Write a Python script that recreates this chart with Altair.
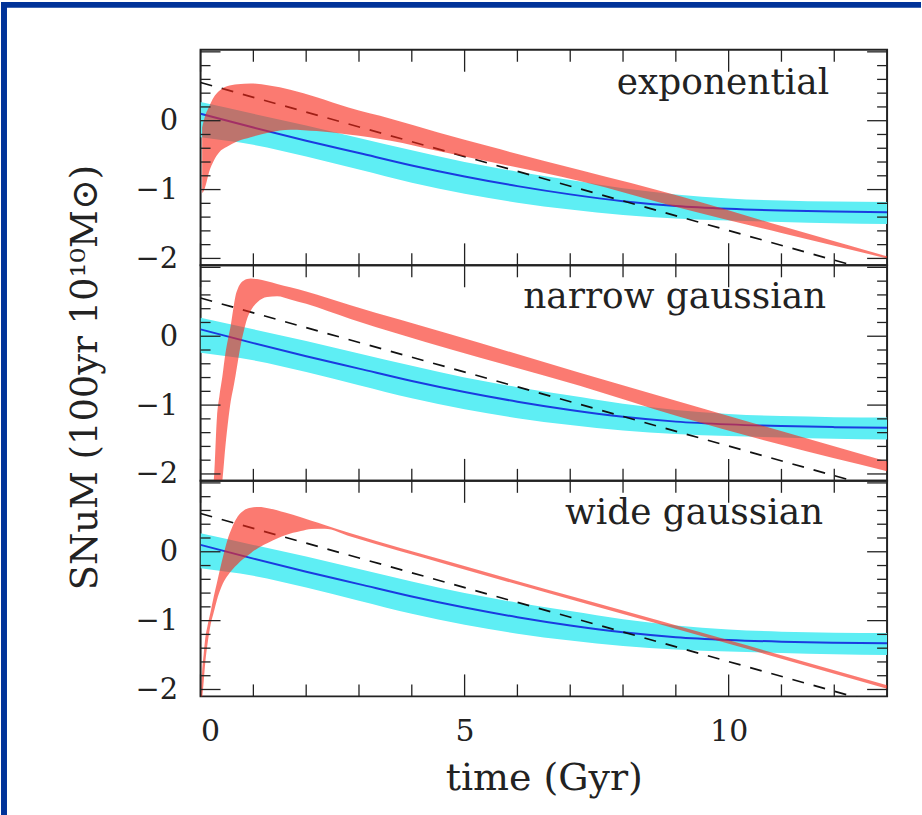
import altair as alt
import pandas as pd

# ---------------- data ----------------
T_GRID = [0, 1, 2, 3, 4, 5, 6, 7, 8, 9, 10, 11, 12, 13]
BLUE_MID = [0.1, -0.1, -0.29, -0.47, -0.65, -0.81, -0.95, -1.07, -1.17, -1.24, -1.28, -1.305, -1.32, -1.33]
CYAN_HI = [0.27, 0.1, -0.07, -0.25, -0.43, -0.6, -0.74, -0.86, -0.98, -1.07, -1.13, -1.16, -1.175, -1.18]
CYAN_LO = [-0.24, -0.35, -0.52, -0.71, -0.9, -1.06, -1.19, -1.29, -1.37, -1.42, -1.45, -1.47, -1.49, -1.5]

DASH_T = [0.0, 13.0]
DASH_Y = [0.555, -2.24]

EXP_T = [0.03, 0.06, 0.1, 0.16, 0.25, 0.35, 0.5, 0.7, 0.95, 1.3, 1.7, 2.2, 2.8, 3.6, 4.5, 5.5, 7.2, 9.1, 11.0, 13.0]
EXP_HI = [-0.1, 0.0, 0.1, 0.2, 0.34, 0.43, 0.5, 0.53, 0.54, 0.51, 0.45, 0.34, 0.19, 0.03, -0.17, -0.38, -0.72, -1.1, -1.53, -1.97]
EXP_LO = [-1.05, -1.02, -0.93, -0.75, -0.58, -0.46, -0.38, -0.3, -0.24, -0.17, -0.13, -0.15, -0.2, -0.29, -0.44, -0.6, -0.88, -1.27, -1.63, -2.0]

NAR_T = [0.2, 0.25, 0.31, 0.36, 0.41, 0.47, 0.53, 0.57, 0.62, 0.66, 0.71, 0.76, 0.82, 0.88, 0.95, 1.07, 1.26, 1.45, 1.7, 2.0, 2.84, 4.73, 7.18, 9.07, 10.96, 13.0]
NAR_HI = [-2.3, -2.1, -1.18, -0.85, -0.6, -0.25, 0.0, 0.15, 0.4, 0.58, 0.7, 0.77, 0.81, 0.83, 0.84, 0.83, 0.8, 0.76, 0.71, 0.65, 0.45, 0.03, -0.53, -0.95, -1.37, -1.82]
NAR_LO = [-2.3, -2.3, -2.3, -2.3, -2.12, -1.6, -1.18, -0.95, -0.75, -0.58, -0.35, -0.13, 0.08, 0.25, 0.37, 0.49, 0.57, 0.58, 0.535, 0.47, 0.25, -0.19, -0.72, -1.17, -1.57, -1.96]

WID_T = [0.0, 0.03, 0.06, 0.09, 0.13, 0.19, 0.25, 0.31, 0.4, 0.5, 0.6, 0.7, 0.8, 0.95, 1.1, 1.3, 1.6, 1.9, 2.1, 2.35, 2.84, 4.73, 7.37, 10.02, 13.0]
WID_HI = [-2.3, -1.74, -1.48, -1.25, -1.08, -0.87, -0.65, -0.45, -0.15, 0.15, 0.36, 0.51, 0.59, 0.64, 0.65, 0.63, 0.57, 0.5, 0.45, 0.39, 0.27, -0.15, -0.72, -1.29, -1.94]
WID_LO = [-2.3, -2.12, -1.88, -1.6, -1.35, -1.06, -0.88, -0.7, -0.5, -0.36, -0.26, -0.18, -0.11, -0.02, 0.06, 0.14, 0.24, 0.3, 0.33, 0.335, 0.22, -0.2, -0.77, -1.34, -1.99]

PANEL_LABELS = ["exponential", "narrow gaussian", "wide gaussian"]
X_LABEL_VALUES = [0, 5, 10]
Y_LABEL_VALUES = [-2, -1, 0]
X_MAJOR = [0, 5, 10]
X_MINOR = [1, 2, 3, 4, 6, 7, 8, 9, 11, 12]
Y_MAJOR = [-2, -1, 0, 1]
Y_MINOR = [-1.8, -1.6, -1.4, -1.2, -0.8, -0.6, -0.4, -0.2, 0.2, 0.4, 0.6, 0.8]

X_TITLE = "time (Gyr)"
Y_TITLE = "SNuM (100yr 10¹⁰M⊙)"

# ---------------- style ----------------
W, H = 688, 216
FONT = "DejaVu Serif"
INK = "#222222"
CYAN = "#5eeef4"
BLUE = "#1a3be0"
RED = "#f8281a"
BORDER = "#003399"

xs = alt.Scale(domain=[0, 13], nice=False, zero=False)
ys = alt.Scale(domain=[-2.1, 1.03], nice=False, zero=False)

cyan_df = pd.DataFrame({"t": T_GRID, "hi": CYAN_HI, "lo": CYAN_LO, "mid": BLUE_MID})
dash_df = pd.DataFrame({"t": DASH_T, "y": DASH_Y})
red_dfs = [
    pd.DataFrame({"t": EXP_T, "hi": EXP_HI, "lo": EXP_LO}),
    pd.DataFrame({"t": NAR_T, "hi": NAR_HI, "lo": NAR_LO}),
    pd.DataFrame({"t": WID_T, "hi": WID_HI, "lo": WID_LO}),
]
label_x = [630, 627, 624]
label_y = [44, 43, 43]


def panel(i):
    last = i == 2
    mid = i == 1
    if last:
        xaxis = alt.Axis(values=X_LABEL_VALUES, ticks=False, tickSize=0, domain=False, grid=False,
                         labelFont=FONT, labelFontSize=30, labelColor=INK, labelPadding=20,
                         title=X_TITLE, titleFont=FONT, titleFontSize=38, titleFontWeight="normal",
                         titleColor=INK, titleX=W / 2, titleY=93, titleBaseline="alphabetic")
    else:
        xaxis = None
    yargs = dict(values=Y_LABEL_VALUES, ticks=False, tickSize=0, domain=False, grid=False,
                 labelFont=FONT, labelFontSize=29, labelColor=INK, labelPadding=23)
    if mid:
        yaxis = alt.Axis(title=Y_TITLE, titleFont=FONT, titleFontSize=37, titleFontWeight="normal",
                         titleColor=INK, titleX=-104, titleY=H / 2 + 4, titleAngle=270,
                         titleAlign="center", titleBaseline="alphabetic", **yargs)
    else:
        yaxis = alt.Axis(title="", **yargs)

    def X(field):
        return alt.X(field, scale=xs, axis=xaxis)

    def Y(field):
        return alt.Y(field, scale=ys, axis=yaxis)

    band = alt.Chart(cyan_df).mark_area(color=CYAN, opacity=1, clip=True, interpolate="monotone").encode(
        x=X("t:Q"), y=Y("hi:Q"), y2="lo:Q",
    )
    blue = alt.Chart(cyan_df).mark_line(color=BLUE, strokeWidth=2, clip=True, interpolate="monotone").encode(
        x=X("t:Q"), y=Y("mid:Q"),
    )
    dash = alt.Chart(dash_df).mark_line(color="#111111", strokeWidth=1.7, strokeDash=[12, 10], clip=True).encode(
        x=X("t:Q"), y=Y("y:Q"),
    )
    red = alt.Chart(red_dfs[i]).mark_area(color=RED, opacity=0.62, clip=True, interpolate="monotone").encode(
        x=X("t:Q"), y=Y("hi:Q"), y2="lo:Q",
    )
    layers = [band, blue, dash, red]

    xmaj = pd.DataFrame({"t": X_MAJOR})
    xmin = pd.DataFrame({"t": X_MINOR})
    ymaj = pd.DataFrame({"v": Y_MAJOR})
    ymin = pd.DataFrame({"v": Y_MINOR})
    for df, ln in ((xmaj, 22), (xmin, 12)):
        layers.append(alt.Chart(df).mark_rule(color=INK, strokeWidth=1.3).encode(
            x=X("t:Q"), y=alt.value(H), y2=alt.value(H - ln)))
        layers.append(alt.Chart(df).mark_rule(color=INK, strokeWidth=1.3).encode(
            x=X("t:Q"), y=alt.value(0), y2=alt.value(ln)))
    for df, ln in ((ymaj, 20), (ymin, 10)):
        layers.append(alt.Chart(df).mark_rule(color=INK, strokeWidth=1.3).encode(
            y=Y("v:Q"), x=alt.value(0), x2=alt.value(ln)))
        layers.append(alt.Chart(df).mark_rule(color=INK, strokeWidth=1.3).encode(
            y=Y("v:Q"), x=alt.value(W), x2=alt.value(W - ln)))

    lab = pd.DataFrame({"label": [PANEL_LABELS[i]]})
    layers.append(alt.Chart(lab).mark_text(align="right", baseline="alphabetic", font=FONT,
                                           fontSize=36, color=INK).encode(
        x=alt.value(label_x[i]), y=alt.value(label_y[i]), text="label:N"))

    if last:
        # page frame strips; they also fix the chart's outer extent (922 x 815)
        strip = pd.DataFrame({"k": [0]})
        top0 = -(2 * H) - 48
        layers.append(alt.Chart(strip).mark_rect(color=BORDER).encode(
            x=alt.value(-200), x2=alt.value(722), y=alt.value(top0), y2=alt.value(top0 + 6)))
        layers.append(alt.Chart(strip).mark_rect(color=BORDER).encode(
            x=alt.value(-200), x2=alt.value(-194), y=alt.value(top0), y2=alt.value(top0 + 815)))

    return alt.layer(*layers).properties(width=W, height=H)


chart = alt.vconcat(panel(0), panel(1), panel(2), spacing=0, bounds="flush").properties(
    padding=0,
    background="white",
).configure_view(stroke=INK, strokeWidth=2)

chart.save("out.html", embed_options={"renderer": "svg", "actions": False})
